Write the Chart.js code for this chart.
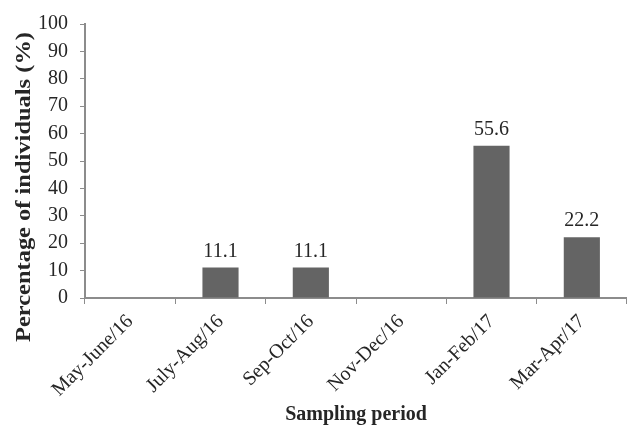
<!DOCTYPE html>
<html>
<head>
<meta charset="utf-8">
<script src="https://cdn.jsdelivr.net/npm/chart.js@4/dist/chart.umd.min.js"></script>
<style>
  body { margin: 0; background: #fff; }
  canvas { display: block; }
</style>
</head>
<body>
<canvas id="chart" width="627" height="429"></canvas>
<script>
const categories = ['May-June/16', 'July-Aug/16', 'Sep-Oct/16', 'Nov-Dec/16', 'Jan-Feb/17', 'Mar-Apr/17'];
const percentages = [0, 11.1, 11.1, 0, 55.6, 22.2];
const yTicks = [0, 10, 20, 30, 40, 50, 60, 70, 80, 90, 100];
const yTitle = 'Percentage of individuals (%)';

const serif = "'Liberation Serif', 'Times New Roman', serif";
const axisGrey = '#8c8c8c';
const textColor = '#262626';

// numbers above the bars
const valueLabels = {
    id: 'valueLabels',
    afterDatasetsDraw(chart) {
        const ctx = chart.ctx;
        const meta = chart.getDatasetMeta(0);
        ctx.save();
        ctx.font = '20px ' + serif;
        ctx.fillStyle = textColor;
        ctx.textAlign = 'center';
        ctx.textBaseline = 'alphabetic';
        meta.data.forEach((bar, i) => {
            let v = percentages[i];
            if (v > 0) {
                ctx.fillText(v.toFixed(1), bar.x, bar.y - 11);
            }
        });
        ctx.restore();
    }
};

// y title, stretched along its length like the original
const yTitlePlugin = {
    id: 'yTitlePlugin',
    afterDraw(chart) {
        const ctx = chart.ctx;
        ctx.save();
        ctx.font = 'bold 20px ' + serif;
        ctx.fillStyle = textColor;
        ctx.textAlign = 'center';
        ctx.textBaseline = 'middle';
        let w = ctx.measureText(yTitle).width;
        ctx.translate(25, 187);
        ctx.rotate(-Math.PI / 2);
        ctx.scale(310 / w, 1);
        ctx.fillText(yTitle, 0, 0);
        ctx.restore();
    }
};

new Chart(document.getElementById('chart'), {
    type: 'bar',
    data: {
        labels: categories,
        datasets: [{
            data: percentages,
            backgroundColor: '#646464',
            borderWidth: 0,
            barPercentage: 0.4,
            categoryPercentage: 1
        }]
    },
    options: {
        responsive: false,
        animation: false,
        layout: { padding: { left: 0, right: 0, top: 23, bottom: 2 } },
        plugins: {
            legend: { display: false },
            tooltip: { enabled: false }
        },
        scales: {
            x: {
                afterFit(axis) { axis.height = 129; },
                grid: {
                    drawOnChartArea: false,
                    color: axisGrey,
                    tickLength: 6,
                    offset: true
                },
                border: { color: axisGrey, width: 2 },
                ticks: {
                    maxRotation: 45,
                    minRotation: 45,
                    color: textColor,
                    font: { family: serif, size: 20 },
                    padding: 6
                },
                title: {
                    display: true,
                    text: 'Sampling period',
                    color: textColor,
                    font: { family: serif, size: 20, weight: 'bold' },
                    padding: 0
                }
            },
            y: {
                min: 0,
                max: 100,
                afterFit(axis) { axis.width = 85; },
                afterBuildTicks(axis) {
                    axis.ticks = yTicks.map(v => ({ value: v }));
                },
                grid: {
                    drawOnChartArea: false,
                    color: axisGrey,
                    tickLength: 5
                },
                border: { color: axisGrey, width: 2 },
                ticks: {
                    color: textColor,
                    font: { family: serif, size: 20 },
                    padding: 12
                }
            }
        }
    },
    plugins: [valueLabels, yTitlePlugin]
});
</script>
</body>
</html>
